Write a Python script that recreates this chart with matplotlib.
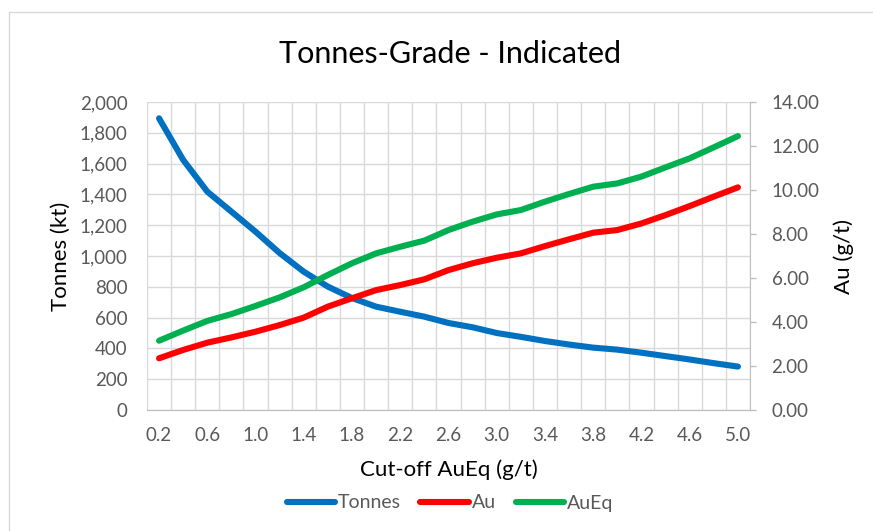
import numpy as np
import matplotlib.pyplot as plt
from matplotlib.patches import Rectangle

# cut-off grades (g/t AuEq)
cutoffs = [0.2, 0.4, 0.6, 0.8, 1.0, 1.2, 1.4, 1.6, 1.8, 2.0, 2.2, 2.4, 2.6,
           2.8, 3.0, 3.2, 3.4, 3.6, 3.8, 4.0, 4.2, 4.4, 4.6, 4.8, 5.0]

# tonnes (kt), left axis
tonnes = [1894, 1624, 1418, 1288, 1158, 1019, 898, 801, 727, 671, 638, 606, 565,
          537, 500, 475, 448, 425, 405, 392, 372, 350, 328, 304, 282]

# grades (g/t), right axis
au = [2.35, 2.73, 3.06, 3.30, 3.56, 3.86, 4.20, 4.70, 5.08, 5.45, 5.68, 5.94, 6.36,
      6.67, 6.92, 7.12, 7.45, 7.76, 8.06, 8.18, 8.48, 8.86, 9.27, 9.70, 10.12]
aueq = [3.15, 3.61, 4.05, 4.36, 4.73, 5.12, 5.58, 6.14, 6.67, 7.12, 7.42, 7.70, 8.18,
        8.56, 8.89, 9.09, 9.47, 9.82, 10.15, 10.30, 10.61, 11.03, 11.44, 11.94, 12.45]

blue, red, green = '#0070C0', '#FF0000', '#00B050'
tick_color = '#595959'
grid_color = '#D9D9D9'

plt.rcParams['font.family'] = ['Lato', 'DejaVu Sans']

fig = plt.figure(figsize=(8.73, 5.31), dpi=100)
# chart area border (Excel style)
fig.patches.append(Rectangle((8.5 / 873, -0.01), 1.0, 1 - 12 / 531 + 0.01, transform=fig.transFigure,
                             fill=False, edgecolor='#D9D9D9', linewidth=1))

ax = fig.add_axes([147 / 873, 121 / 531, 603 / 873, 308 / 531])
ax2 = ax.twinx()

x = np.arange(len(cutoffs))
lw = 4.4
style = dict(lw=lw, solid_capstyle='round', solid_joinstyle='round', zorder=3)
ax.plot(x, tonnes, color=blue, label='Tonnes', **style)
ax2.plot(x, au, color=red, label='Au', **style)
ax2.plot(x, aueq, color=green, label='AuEq', **style)

ax.set_xlim(-0.5, len(cutoffs) - 0.5)
ax.set_ylim(0, 2000)
ax2.set_ylim(0, 14)

ax.set_xticks(x[::2])
ax.set_xticklabels([f'{c:.1f}' for c in cutoffs[::2]])
ax.set_xticks(np.arange(-0.5, len(cutoffs), 1), minor=True)
ax.set_yticks(np.arange(0, 2001, 200))
ax.set_yticklabels([f'{v:,}' for v in range(0, 2001, 200)])
ax2.set_yticks(np.arange(0, 15, 2))
ax2.set_yticklabels([f'{v:.2f}' for v in range(0, 15, 2)])

ax.grid(True, which='minor', axis='x', color=grid_color, lw=1)
ax.grid(True, which='major', axis='y', color=grid_color, lw=1)
ax.set_axisbelow(True)

ax.tick_params(axis='x', which='both', length=0, pad=12, labelsize=13.5, colors=tick_color)
ax.tick_params(axis='y', length=0, pad=14, labelsize=13.5, colors=tick_color)
ax2.tick_params(axis='y', length=4.5, width=1, pad=11, labelsize=13.5, colors=tick_color)
ax2.tick_params(axis='y', color='#BFBFBF')

for a in (ax, ax2):
    a.spines['top'].set_visible(False)
    a.spines['left'].set_visible(False)
ax.spines['right'].set_visible(False)
ax2.spines['right'].set_color('#BFBFBF')
ax2.spines['bottom'].set_color('#BFBFBF')
ax.spines['bottom'].set_color('#BFBFBF')

ax.set_ylabel('Tonnes (kt)', fontsize=16, labelpad=6)
ax2.set_ylabel('Au (g/t)', fontsize=16, labelpad=10)
ax.set_xlabel('Cut-off AuEq (g/t)', fontsize=16, labelpad=11)
fig.text(450 / 873, 1 - 63 / 531, 'Tonnes-Grade - Indicated', fontsize=22, ha='center', va='baseline')

handles = ax.get_lines() + ax2.get_lines()
fig.legend(handles, [h.get_label() for h in handles], loc='center', bbox_to_anchor=(450 / 873, 1 - 503 / 531),
           ncol=3, frameon=False, fontsize=14, handlelength=2.5, handletextpad=0.15, columnspacing=1.0,
           labelcolor=tick_color)

fig.savefig('out.png', dpi=100)
